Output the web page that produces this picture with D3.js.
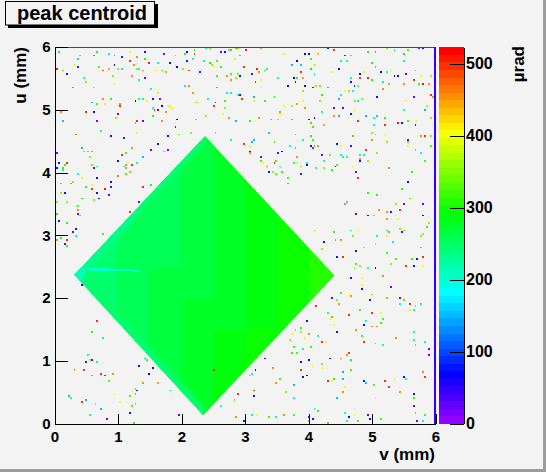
<!DOCTYPE html>
<html>
<head>
<meta charset="utf-8">
<script src="https://cdn.jsdelivr.net/npm/d3@7"></script>
<style>
  body { margin: 0; background: #f3f3f3; }
  svg text { font-family: "Liberation Sans", Arial, Helvetica, sans-serif; font-weight: bold; }
</style>
</head>
<body>
<svg width="546" height="472"></svg>
<script>
// ---- chart values ----
var title = "peak centroid";
var xTitle = "v (mm)", yTitle = "u (mm)", zTitle = "\u00b5rad";
var xTicks = [0, 1, 2, 3, 4, 5, 6];
var yTicks = [0, 1, 2, 3, 4, 5, 6];
var zTicks = [0, 100, 200, 300, 400, 500];
var zMax = 523;
var nColors = 50;
var binW = 0.03;   // 200 bins over 6 mm

// diamond outline (v, u) in mm
var diamondCorners = [[2.37, 4.58], [4.41, 2.36], [2.34, 0.13], [0.31, 2.37]];
// coarse value map inside the diamond, 0.5 mm cells, rows from u=0 up, cols from v=0
var gridStep = 0.5;
var diamondGrid = [
  [252, 252, 258, 272, 280, 287, 292, 298, 302],
  [252, 252, 257, 267, 277, 287, 294, 300, 302],
  [250, 252, 257, 264, 274, 285, 294, 300, 304],
  [247, 250, 255, 262, 272, 282, 292, 300, 307],
  [240, 247, 254, 262, 270, 280, 292, 302, 307],
  [240, 247, 252, 260, 268, 278, 290, 300, 307],
  [242, 247, 252, 258, 267, 277, 288, 297, 302],
  [242, 247, 252, 257, 265, 274, 284, 294, 300],
  [242, 247, 252, 257, 264, 272, 282, 292, 297],
  [242, 247, 252, 257, 264, 272, 282, 292, 297]
];
// lighter strips along the left edges of the diamond
var diamondBands = [
  {z: 234, pts: [[0.31, 2.37], [1.30, 3.43], [1.32, 3.30], [0.46, 2.37]]},
  {z: 245, pts: [[1.30, 3.43], [2.37, 4.58], [2.37, 4.45], [1.32, 3.30]]},
  {z: 242, pts: [[0.31, 2.37], [0.46, 2.37], [2.34, 0.28], [2.34, 0.13]]},
  {z: 215, pts: [[0.31, 2.37], [0.42, 2.49], [0.50, 2.40], [0.42, 2.26]]},
  {z: 205, pts: [[0.40, 2.49], [1.35, 2.45], [1.35, 2.42], [0.45, 2.44]]}
];
// edge row / column of the histogram
var edgeTopZ = 8, edgeRightZ = 45;

// isolated noisy bins [v, u, value]
var noiseTop = [
[.06,5.92,235],[.39,5.85,205],[.38,5.81,160],[.68,5.91,310],[.84,5.89,200],[.62,5.87,480],[.94,5.87,150],[1.17,5.93,400],[1.05,5.83,90],[1.30,5.83,450],
[1.41,5.92,80],[1.71,5.90,20],[1.89,5.85,440],[2.05,5.90,310],[2.09,5.93,70],[2.19,5.96,320],[2.19,5.88,500],[2.39,5.98,210],[2.43,5.97,330],[2.62,5.92,25],
[2.67,5.93,60],[2.73,5.95,190],[2.78,5.96,460],[2.85,5.97,310],[2.90,5.97,440],[3.01,5.95,510],[3.25,5.97,450],[3.60,5.89,390],[3.93,5.90,70],[3.99,5.90,80],
[4.15,5.90,430],[4.30,5.98,90],[4.40,5.96,500],[4.56,5.87,100],[4.67,5.86,330],[4.61,5.78,200],[4.93,5.93,320],[5.05,5.92,150],[5.24,5.97,340],[5.36,5.95,200],
[5.50,5.90,300],[5.57,5.96,320],[5.73,5.98,20],[5.80,5.98,80],
[.04,5.64,510],[.13,5.62,320],[.31,5.70,380],[.18,5.55,80],[.38,5.67,90],[.69,5.67,330],[.76,5.62,490],[.85,5.66,440],[.94,5.71,70],[.99,5.64,430],
[1.06,5.66,210],[1.17,5.78,500],[1.25,5.70,450],[1.30,5.66,360],[1.34,5.64,200],[1.40,5.61,460],[1.43,5.79,310],[1.48,5.74,510],[1.60,5.61,400],[1.68,5.61,320],
[1.74,5.59,440],[1.63,5.73,200],[1.80,5.73,80],[1.89,5.70,390],[1.93,5.69,70],[2.01,5.64,350],[2.10,5.61,500],[2.07,5.76,90],[2.16,5.80,200],[2.30,5.58,100],
[2.35,5.78,210],[2.43,5.75,300],[2.47,5.70,350],[2.51,5.69,400],[2.57,5.76,320],[2.62,5.67,310],[2.82,5.80,360],[2.91,5.87,300],[2.78,5.57,320],[2.88,5.57,350],
[2.98,5.69,500],[3.19,5.64,510],[3.22,5.59,450],[3.30,5.62,320],[3.35,5.64,200],[3.72,5.71,150],[3.81,5.76,70],[3.87,5.70,160],[4.04,5.80,320],[4.03,5.66,300],
[4.08,5.72,350],[3.88,5.59,500],[4.08,5.57,200],[4.37,5.58,400],[4.47,5.64,80],[4.52,5.78,210],[4.80,5.55,90],[4.87,5.58,390],[4.98,5.74,310],[5.05,5.67,450],
[5.13,5.58,80],[5.24,5.58,200],[5.30,5.61,400],[5.35,5.53,70],[5.49,5.76,210],[5.52,5.57,20],[5.69,5.63,320],[5.77,5.54,400],
[.45,5.50,200],[.50,5.45,350],[.27,5.36,470],[.62,5.34,360],[.90,5.53,350],[.94,5.42,400],[1.21,5.53,450],[1.33,5.47,200],[1.42,5.50,25],[1.50,5.33,210],
[2.05,5.39,200],[2.10,5.39,450],[2.56,5.53,320],[2.55,5.36,300],[2.70,5.53,450],[2.77,5.47,460],[2.86,5.49,350],[2.93,5.53,80],[3.10,5.55,90],[3.17,5.45,500],
[3.24,5.47,400],[3.51,5.50,200],[3.67,5.39,80],[3.75,5.50,70],[3.78,5.45,90],[3.83,5.50,320],[3.92,5.51,440],[3.90,5.30,350],[3.95,5.39,80],[4.07,5.34,25],
[4.13,5.39,350],[4.18,5.37,340],[4.30,5.34,150],[4.58,5.28,400],[4.65,5.51,200],[4.66,5.43,80],[4.72,5.39,90],[4.78,5.38,350],[4.80,5.56,70],[4.82,5.49,500],
[4.93,5.51,510],[4.99,5.46,310],[5.17,5.45,200],[5.18,5.33,450],[5.27,5.42,440],[5.41,5.53,80],[5.49,5.42,450],[5.64,5.46,500],[5.74,5.41,320],[5.80,5.41,510],
[5.90,5.41,460],[5.93,5.53,360],[5.92,5.23,500],
[.58,5.12,150],[.75,5.18,450],[.88,5.18,310],[.68,5.08,320],[.79,5.08,400],[1.04,5.05,500],[1.02,5.07,460],[1.26,5.14,80],[1.34,5.18,320],[1.40,5.17,200],
[1.46,5.13,400],[1.55,5.17,80],[1.63,5.26,410],[1.66,5.17,20],[1.69,5.05,70],[1.81,5.05,390],[2.16,5.25,450],[2.22,5.12,350],[2.26,5.11,400],[2.41,5.17,200],
[2.53,5.11,25],[2.69,5.13,320],[2.72,5.26,200],[2.78,5.26,210],[2.88,5.22,190],[2.91,5.22,80],[2.95,5.17,500],[3.14,5.19,150],[3.13,5.13,400],[3.32,5.13,320],
[3.46,5.19,300],[3.54,4.96,450],[3.73,5.05,360],[3.82,5.07,440],[3.90,5.13,400],[4.17,5.14,350],[4.21,5.22,310],[4.40,5.03,20],[4.49,5.17,150],[4.50,5.23,200],
[4.54,5.01,25],[4.63,5.28,350],[4.70,5.28,200],[4.73,5.13,310],[4.78,5.13,210],[4.84,5.17,350],[5.08,5.20,80],[5.52,5.13,400],[5.66,5.19,20],[5.87,5.04,360],
[5.94,5.20,450],
[.09,4.95,450],[.50,4.95,500],[.62,4.95,80],[.99,4.94,20],[1.53,5.01,200],[1.57,5.00,500],[1.63,4.98,25],[1.76,4.97,450],[1.78,5.06,400],[1.84,5.03,410],
[2.51,5.06,500],[2.67,5.01,350],[2.65,4.93,400],[3.55,4.93,390],[3.62,5.04,400],[3.93,5.01,450],[4.01,4.85,80],[4.10,4.88,70],[4.20,4.97,200],[4.39,4.91,450],
[4.49,4.89,150],[4.67,4.93,80],[4.72,4.98,400],[4.91,4.91,150],[5.03,4.88,200],[5.07,4.90,160],[5.19,4.88,310],[5.51,4.98,210],[5.82,4.99,150],[5.98,4.98,80],
[.13,4.80,150],[.67,4.81,20],[.98,4.88,350],[1.26,4.78,450],[1.30,4.80,500],[1.39,4.80,25],[1.55,4.89,310],[1.69,4.80,450],[1.94,4.85,80],[1.91,4.71,90],
[2.24,4.85,200],[2.39,4.89,350],[2.73,4.86,450],[2.86,4.80,150],[3.07,4.80,310],[3.21,4.87,450],[3.41,4.85,200],[3.53,4.85,350],[3.73,4.85,320],[4.04,4.79,450],
[4.07,4.73,310],[4.24,4.74,440],[4.79,4.80,500],[5.02,4.75,200],[5.20,4.75,500],[5.40,4.78,510],[5.46,4.79,80],[5.55,4.80,320],[5.68,4.74,25],[5.70,4.81,400],
[5.93,4.87,350],[.73,4.65,200],[.87,4.56,80],[1.09,4.53,90],[1.30,4.63,400],[1.78,4.57,80],[1.95,4.61,350],[2.13,4.63,350],[2.52,4.63,340],[2.78,4.52,200],
[3.13,4.51,150],[3.36,4.63,160],[3.78,4.61,200],[4.04,4.58,310],[4.70,4.56,450],[4.98,4.63,350],[5.05,4.59,320],[5.20,4.59,400],[5.77,4.57,450],[5.84,4.56,500],
[5.92,4.58,350],[.33,4.59,450]
];
var noiseLeft = [
[.42,4.40,150],[1.21,4.40,450],[1.62,4.46,80],[.05,4.31,20],[.46,4.32,200],[.52,4.33,320],[.58,4.32,310],[1.06,4.28,500],[1.13,4.29,320],[1.38,4.23,150],
[1.52,4.35,25],[1.72,4.33,200],[1.78,4.35,20],[.18,4.15,510],[.16,4.12,310],[.06,4.14,80],[.54,4.24,350],[.58,4.12,340],[.67,4.08,200],[.62,4.06,25],
[.99,4.18,80],[1.08,4.08,200],[1.11,4.12,450],[1.15,4.14,400],[1.22,4.12,500],[1.31,4.14,200],[1.11,4.05,450],[1.18,3.99,440],[1.13,3.97,320],[.03,4.05,80],
[.13,4.07,310],[.12,4.03,200],[.38,3.96,200],[.43,3.91,400],[.99,3.95,470],[.67,3.90,80],[.87,3.85,80],[.88,3.75,25],[.09,3.82,320],[.24,3.83,310],
[.27,3.84,350],[.50,3.76,310],[.57,3.80,400],[.58,3.73,500],[.79,3.73,510],[1.38,3.76,500],[1.51,3.78,310],[.68,3.67,80],[.84,3.64,25],[.10,3.68,350],
[.15,3.66,80],[.03,3.52,350],[.20,3.53,350],[.43,3.57,310],[.62,3.56,350],[.70,3.57,80],[1.34,3.53,25],[.34,3.47,400],[.38,3.46,200],[.38,3.41,450],
[1.17,3.38,500],[.36,3.34,25],[.40,3.31,310],[.05,3.34,300],[.08,3.23,80],[.20,3.19,310],[.33,3.11,80],[.27,3.03,20],[.33,2.98,200],[.75,3.01,320],
[.10,2.95,310],[.05,2.92,450],[.20,2.93,500],[.16,2.87,25],[.20,2.82,320],[.42,2.19,80],[.66,1.62,500],[.58,1.45,310],[.75,1.37,210],[.51,1.10,200],
[.48,.98,25],[.54,1.00,350],[.59,1.01,20],[.67,.96,200],[.30,.86,450],[.46,.85,500],[.73,.80,500],[.78,.76,510],[.90,.80,450],[.58,.75,460],
[.84,.67,330],[1.41,1.04,150],[1.44,1.00,310],[1.34,.91,80],[1.55,.89,80],[1.47,.80,70],[1.39,.64,450],[1.62,.64,440],[1.81,.51,200],[1.28,.54,310],
[1.31,.52,80],[1.22,.52,400],[1.17,.43,320],[1.27,.45,450],[.93,.47,400],[.23,.43,150],[.24,.39,320],[.48,.37,150],[.43,.35,500],[.63,.32,350],
[1.03,.33,400],[1.20,.29,320],[1.28,.31,200],[.73,.21,150],[.55,.13,200],[.82,.08,25],[1.19,.16,80],[1.24,.02,310],[1.97,.13,25]
];
var noiseRight = [
[2.78,4.51,200],[2.98,4.46,500],[3.09,4.49,150],[3.08,4.42,400],[3.06,4.32,80],[3.07,4.29,450],[3.26,4.25,25],[3.24,4.19,320],[3.27,4.16,400],[3.33,4.08,450],
[3.38,3.99,80],[3.43,4.01,350],[3.47,4.14,500],[3.47,4.47,320],[3.52,4.31,25],[3.57,4.34,80],[3.48,4.17,320],[3.56,4.08,200],[3.57,4.01,310],[3.50,3.97,320],
[3.67,3.90,310],[3.67,3.83,300],[3.69,4.41,200],[3.78,4.40,320],[3.82,4.23,450],[3.76,4.15,200],[3.81,4.16,400],[3.88,4.08,350],[3.88,3.97,25],[3.96,4.15,200],
[3.98,4.12,80],[3.92,4.52,200],[4.02,4.41,500],[4.06,4.39,510],[4.03,4.42,80],[4.09,4.43,150],[4.14,4.42,450],[4.06,4.52,320],[4.22,4.28,25],[4.25,4.17,200],
[4.32,4.28,350],[4.13,4.05,200],[4.24,4.05,350],[4.35,4.04,310],[4.43,4.10,80],[4.45,4.12,320],[4.51,4.26,200],[4.55,4.24,210],[4.44,4.46,80],[4.52,4.43,400],
[4.60,4.24,200],[4.66,4.42,25],[4.80,4.26,200],[4.82,4.20,450],[4.82,4.17,80],[4.88,4.26,210],[4.90,4.36,500],[4.94,4.19,350],[5.00,4.52,450],[5.22,4.49,350],
[5.09,4.29,350],[5.27,4.05,450],[4.74,3.99,25],[4.78,3.92,500],[4.70,4.10,400],[4.93,3.67,310],[5.08,3.65,310],[5.55,4.49,320],[5.57,4.41,400],[5.57,4.51,25],
[5.67,4.37,200],[5.77,4.31,200],[5.82,4.17,320],[5.92,4.41,320],[5.62,4.01,310],[5.57,3.84,80],[5.48,3.73,310],[5.59,3.57,320],[5.39,3.50,350],[5.49,3.48,25],
[5.28,3.38,25],[5.44,3.40,500],[5.23,3.37,450],[5.12,3.40,450],[5.02,3.32,350],[4.93,3.31,80],[4.76,3.34,25],[4.60,3.52,200],[4.56,3.48,450],[5.39,3.31,400],
[5.40,3.24,400],[5.23,3.26,450],[5.79,3.48,25],[5.81,3.32,80],[5.88,3.19,350],[5.87,3.13,310],[5.79,3.01,350],[5.78,2.98,350],[5.99,2.75,400],[5.77,2.81,320],
[5.45,3.11,310],[5.47,3.05,25],[5.50,3.08,320],[5.43,3.09,350],[5.23,3.07,200],[5.08,2.98,200],[5.06,2.87,350],[5.32,2.90,200],[5.24,2.99,400],[5.27,3.03,450],
[4.66,3.07,200],[4.77,3.07,400],[4.69,2.98,350],[4.51,2.92,450],[4.43,2.91,310],[4.39,3.03,320],[4.09,3.07,320],[4.20,2.78,350],[4.24,2.90,80],[4.45,2.65,80],
[4.55,2.65,500],[4.76,2.74,80],[4.87,2.81,350],[5.24,2.70,320],[5.38,2.62,320],[5.29,2.52,350],[5.53,2.49,500],[5.64,2.51,80],[5.72,2.62,80],[5.79,2.64,500],
[5.81,2.50,400],[5.61,2.63,320],[4.75,2.53,320],[4.72,2.48,350],[4.81,2.51,340],[4.92,2.46,200],[5.05,2.46,80],[5.18,2.35,450],[4.66,2.32,80],[4.85,2.33,400],
[4.85,2.20,400],[4.85,2.14,80],[4.97,1.96,80],[4.99,2.04,350],[5.23,1.98,320],[5.28,2.17,25],[5.43,2.00,25],[5.43,1.91,200],[5.50,1.97,320],[5.59,1.89,500],
[5.66,1.80,200],[5.67,1.88,200],[5.58,1.80,400],[5.78,1.89,200],[5.66,1.45,200],[5.64,1.34,200],[5.67,1.24,200],[5.83,1.31,200],[5.88,1.18,25],[5.90,1.08,25],
[4.52,2.08,320],[4.62,2.06,400],[4.66,2.03,450],[4.37,1.98,25],[4.45,1.95,350],[4.48,1.90,450],[4.64,1.73,500],[4.81,1.82,320],[4.99,1.74,500],[5.14,1.76,400],
[5.18,1.65,320],[5.15,1.59,320],[4.91,1.64,200],[4.87,1.56,80],[5.00,1.53,450],[5.08,1.53,450],[5.37,1.37,450],[4.88,1.30,500],[5.05,1.28,320],[5.17,1.25,200],
[4.35,1.69,450],[4.34,1.65,400],[4.39,1.56,400],[4.31,1.74,200],[4.45,1.46,80],[4.75,1.47,450],[4.85,1.40,320],[4.12,1.87,500],[3.96,1.63,80],[3.88,1.51,320],
[3.87,1.45,350],[3.79,1.48,200],[3.99,1.43,450],[3.93,1.36,400],[4.14,1.38,200],[4.20,1.29,500],[4.28,1.31,400],[4.03,1.22,320],[3.90,1.18,200],[3.82,1.12,320],
[3.72,1.12,310],[3.76,1.22,320],[3.71,1.34,350],[3.73,1.41,400],[4.62,1.11,500],[4.60,1.09,450],[4.52,1.02,450],[4.65,1.01,310],[4.67,.85,200],[4.66,.84,320],
[4.34,1.03,80],[4.22,.95,350],[4.21,.87,400],[4.06,.92,400],[3.99,.99,80],[3.89,.85,500],[3.98,.76,80],[3.92,.73,80],[3.89,.98,80],[4.38,.70,310],
[4.31,.68,500],[4.36,.67,400],[4.53,.82,150],[4.54,.70,150],[4.55,.50,450],[4.45,.41,150],[4.57,.57,400],[4.87,.67,80],[4.89,.64,150],[5.01,.62,320],
[5.21,.67,500],[5.25,.58,500],[5.34,.71,400],[5.45,.49,450],[5.50,.73,80],[5.54,.71,200],[5.84,.73,500],[5.98,.72,25],[5.80,.83,450],[5.64,.45,80],
[5.66,.39,320],[5.06,.39,400],[5.65,.27,25],[5.67,.15,200],[5.82,.13,320],[5.98,.23,80],[5.98,.04,500],[5.81,.05,200],[5.71,.05,25],[5.14,.08,320],
[4.93,.12,25],[4.95,.06,80],[4.73,.13,400],[4.77,.05,320],[4.58,.15,200],[4.64,.09,80],[4.59,.04,200],[4.15,.20,320],[4.09,.21,200],[4.06,.07,80],
[3.99,.11,25],[4.01,.04,320],[4.30,.01,320],[3.75,.12,320],[3.60,.12,450],[3.50,.11,200],[3.38,.09,320],[3.19,.12,400],[3.09,.13,200],[2.98,.04,80],
[2.87,.11,450],[2.63,.28,200],[2.89,.45,500],[2.84,.37,320],[3.12,.43,80],[3.13,.53,500],[3.32,1.04,80],[3.42,.87,450],[3.50,.65,450],[3.56,.71,320],
[3.65,.49,350],[3.77,.62,150],[3.75,.39,200],[3.15,.85,80],[3.06,.76,350],[3.10,.79,200],[2.50,.85,500]
];

// ---- drawing ----
var svg = d3.select("svg");
var bg = "#f3f3f3";

svg.append("rect").attr("width", 546).attr("height", 472).attr("fill", bg);
// canvas border (dark lower/right edge)
svg.append("rect").attr("x", 543).attr("y", 0).attr("width", 3).attr("height", 472).attr("fill", "#9c9c9c");
svg.append("rect").attr("x", 0).attr("y", 469).attr("width", 546).attr("height", 3).attr("fill", "#9c9c9c");

var x = d3.scaleLinear().domain([0, 6]).range([54.5, 435.5]);
var y = d3.scaleLinear().domain([0, 6]).range([423.5, 47]);
var zy = d3.scaleLinear().domain([0, zMax]).range([423.5, 47]);

function color(val)
{
  var i = Math.floor(val / zMax * nColors);
  if(i < 0) i = 0;
  if(i > nColors-1) i = nColors-1;
  return d3.hsl(280 - (i+1)*280/nColors, 1, 0.5).formatHex();
}

var plot = svg.append("g").attr("shape-rendering", "crispEdges");

// diamond
var toPx = d3.line().x(d => x(d[0])).y(d => y(d[1]));
svg.append("clipPath").attr("id", "diamond")
  .append("path").attr("d", toPx(diamondCorners) + "Z");

var cells = [];
for(var r=0;r<diamondGrid.length;r++)
{
  for(var c=0;c<diamondGrid[r].length;c++)
  {
    cells.push({v0: c*gridStep, u0: r*gridStep, z: diamondGrid[r][c]});
  }
}
var dg = plot.append("g").attr("clip-path", "url(#diamond)");
dg.selectAll("rect.cell")
  .data(cells).enter()
  .append("rect").attr("class", "cell")
  .attr("x", d => x(d.v0))
  .attr("y", d => y(d.u0 + gridStep))
  .attr("width", d => x(d.v0 + gridStep) - x(d.v0) + 0.5)
  .attr("height", d => y(d.u0) - y(d.u0 + gridStep) + 0.5)
  .attr("fill", d => color(d.z));
dg.selectAll("path.band")
  .data(diamondBands).enter()
  .append("path").attr("class", "band")
  .attr("d", d => toPx(d.pts) + "Z")
  .attr("fill", d => color(d.z));

// noisy bins
var noise = noiseTop.concat(noiseLeft, noiseRight);
plot.selectAll("rect.bin")
  .data(noise).enter()
  .append("rect").attr("class", "bin")
  .attr("x", d => x(Math.floor(d[0]/binW)*binW))
  .attr("y", d => y((Math.floor(d[1]/binW)+1)*binW))
  .attr("width", x(binW) - x(0))
  .attr("height", y(0) - y(binW))
  .attr("fill", d => color(d[2]));

// filled edge row and column
plot.append("rect")
  .attr("x", x(0)).attr("y", y(6) - 0.5)
  .attr("width", x(6) - x(0)).attr("height", 1.5)
  .attr("fill", color(edgeTopZ));
plot.append("rect")
  .attr("x", x(6) - 1.5).attr("y", y(6))
  .attr("width", 2).attr("height", y(0) - y(6))
  .attr("fill", color(edgeRightZ));

// axes
var minorX = d3.range(0, 30).map(i => i*0.2).filter(d => Math.abs(d - Math.round(d)) > 1e-6);
var gx = svg.append("g").attr("transform", "translate(0," + y(0) + ")");
gx.call(d3.axisBottom(x).tickValues(minorX).tickSize(-5).tickFormat(""));
gx.call(d3.axisBottom(x).tickValues(xTicks).tickSizeInner(-10).tickSizeOuter(0).tickPadding(8).tickFormat(d3.format("d")));

var gy = svg.append("g").attr("transform", "translate(" + x(0) + ",0)");
gy.call(d3.axisLeft(y).tickValues(minorX).tickSize(-7).tickFormat(""));
gy.call(d3.axisLeft(y).tickValues(yTicks).tickSizeInner(-13).tickSizeOuter(0).tickPadding(4).tickFormat(d3.format("d")));

svg.selectAll("g.tick line, path.domain").attr("stroke", "#000").attr("shape-rendering", "crispEdges");
gx.selectAll("text").style("font-size", "15px").attr("fill", "#000");
gy.selectAll("text").style("font-size", "15px").attr("fill", "#000");

// palette
var pal = d3.range(nColors);
svg.append("g").attr("shape-rendering", "crispEdges")
  .selectAll("rect").data(pal).enter()
  .append("rect")
  .attr("x", 439)
  .attr("y", i => zy((i+1)*zMax/nColors))
  .attr("width", 25)
  .attr("height", i => zy(i*zMax/nColors) - zy((i+1)*zMax/nColors) + 0.4)
  .attr("fill", i => color((i+0.5)*zMax/nColors));
var gz = svg.append("g").attr("transform", "translate(464,0)");
gz.call(d3.axisRight(zy).tickValues(zTicks).tickSizeInner(-14).tickSizeOuter(0).tickPadding(2).tickFormat(d3.format("d")));
gz.selectAll("line, path").attr("stroke", "#000").attr("shape-rendering", "crispEdges");
gz.selectAll("text").style("font-size", "16px").attr("fill", "#000");

// axis titles
svg.append("text").attr("x", 435).attr("y", 460)
  .attr("text-anchor", "end").style("font-size", "17px").text(xTitle);
svg.append("text").attr("transform", "translate(26,47) rotate(-90)")
  .attr("text-anchor", "end").style("font-size", "17px").text(yTitle);
svg.append("text").attr("transform", "translate(524,46) rotate(-90)")
  .attr("text-anchor", "end").style("font-size", "17px").text(zTitle);

// title box with shadow
svg.append("rect").attr("x", 8).attr("y", 4).attr("width", 150).attr("height", 24).attr("fill", "#000");
svg.append("rect").attr("x", 5.5).attr("y", 1.5).attr("width", 149).attr("height", 23.5)
  .attr("fill", bg).attr("stroke", "#000").attr("stroke-width", 1);
svg.append("text").attr("x", 17).attr("y", 20).style("font-size", "20px").text(title);
</script>
</body>
</html>
